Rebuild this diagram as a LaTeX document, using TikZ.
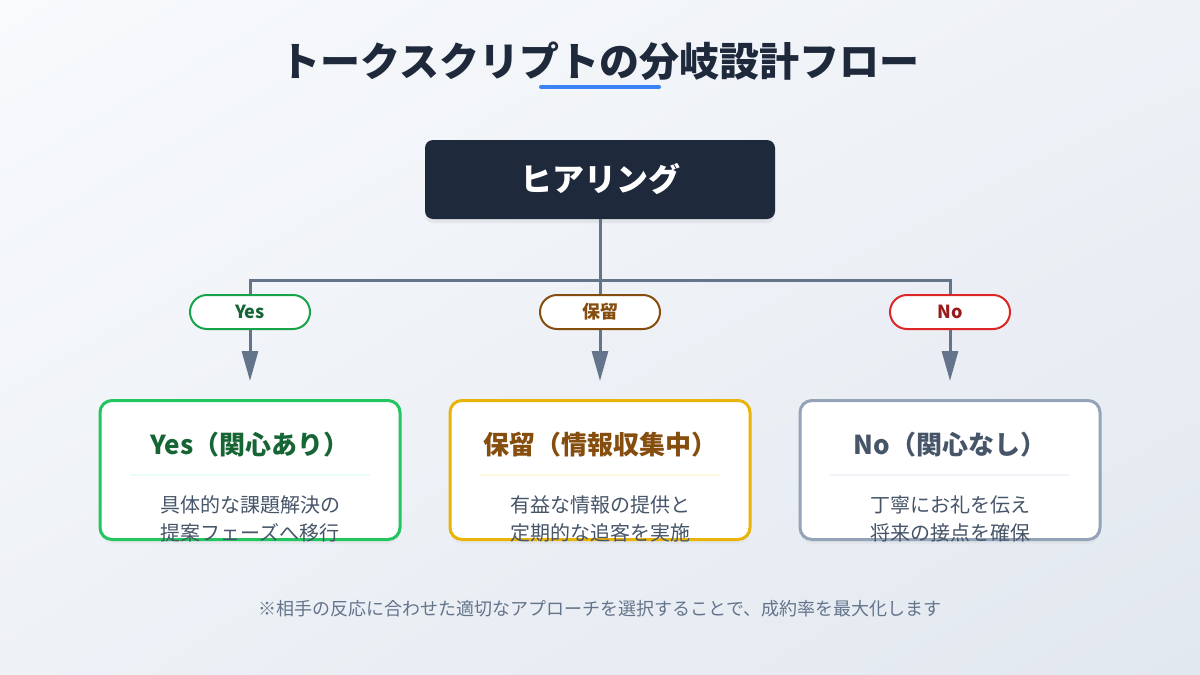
\documentclass[tikz,border=0pt]{standalone}
\usepackage{fontspec}
\setmainfont{Noto Sans CJK JP}
\usetikzlibrary{arrows.meta,positioning,shadows,shadings}

\definecolor{bgA}{HTML}{F8FAFC}
\definecolor{bgM}{HTML}{EEF1F6}
\definecolor{bgB}{HTML}{E2E8F0}
\definecolor{ink}{HTML}{1E293B}
\definecolor{slate}{HTML}{64748B}
\definecolor{bodytext}{HTML}{475569}
\definecolor{accent}{HTML}{3B82F6}
\definecolor{yesline}{HTML}{22C55E}
\definecolor{yespill}{HTML}{16A34A}
\definecolor{yestext}{HTML}{166534}
\definecolor{yessep}{HTML}{ECFDF3}
\definecolor{holdline}{HTML}{EAB308}
\definecolor{holdpill}{HTML}{854D0E}
\definecolor{holdtext}{HTML}{854D0E}
\definecolor{holdsep}{HTML}{FEF9DC}
\definecolor{noline}{HTML}{94A3B8}
\definecolor{nopill}{HTML}{DC2626}
\definecolor{notext}{HTML}{991B1B}
\definecolor{nosep}{HTML}{F1F5F9}

\newcommand{\fs}[1]{\fontsize{#1}{1.4\dimexpr#1pt\relax}\selectfont}

\begin{document}
\begin{tikzpicture}[
    x=1pt, y=-1pt,
    conn/.style={draw=slate, line width=3pt},
    flow/.style={conn, -{Triangle[length=30pt,width=16pt]}, shorten >=18pt},
    pill/.style={
        draw, 
        line width=2pt, 
        fill=white, 
        rounded corners=17pt, 
        minimum width=120pt, 
        minimum height=34pt, 
        inner sep=0pt, 
        font=\fs{18}\bfseries
    },
    card/.style={
        draw, 
        line width=3pt, 
        fill=white, 
        rounded corners=12pt, 
        minimum width=300pt, 
        minimum height=139pt,
        drop shadow={opacity=0.07, shadow xshift=0pt, shadow yshift=-4pt}
    },
    cardtitle/.style={font=\fs{26}\bfseries},
    cardbody/.style={font=\fontsize{20}{28}\selectfont, text=bodytext, align=center},
    sep/.style={line width=1.5pt}
]

% Sfondo
\useasboundingbox (0,0) rectangle (1200,675);
\shade[upper left=bgA, upper right=bgM, lower left=bgM, lower right=bgB] (0,0) rectangle (1200,675);

% Titolo
\node[font=\fs{40}\bfseries, text=ink] (title) at (600,61) {トークスクリプトの分岐設計フロー};
\draw[line width=4pt, line cap=round, draw=accent] (541,87) -- (659,87);

% Nodo di partenza
\node[fill=ink, rounded corners=8pt, minimum width=350pt, minimum height=79pt, 
      text=white, font=\fs{32}\bfseries,
      drop shadow={opacity=0.12, shadow xshift=0pt, shadow yshift=-4pt}] (hear) at (600,179.5) {ヒアリング};

% Schede risultato
\node[card, draw=yesline] (yes) at (250,470) {};
\node[card, draw=holdline, right=47pt of yes] (hold) {};
\node[card, draw=noline, right=47pt of hold] (no) {};

% Collegamenti
\coordinate (jn) at (600,280);
\draw[conn] (hear.south) -- (jn);
\draw[flow] (jn) -| (yes.north);
\draw[flow] (jn) -- (hold.north);
\draw[flow] (jn) -| (no.north);

% Etichette sui rami
\node[pill, draw=yespill, text=yestext] (yespl) at (250,312) {Yes};
\node[pill, draw=holdpill, text=holdtext] (holdpl) at (600,312) {保留};
\node[pill, draw=nopill, text=notext] (nopl) at (950,312) {No};

% Contenuto delle schede
\node[cardtitle, text=yestext] (yestl) at ([yshift=25pt]yes.center) {Yes（関心あり）};
\draw[sep, yessep] ([xshift=-120pt,yshift=-5pt]yes.center) -- ([xshift=120pt,yshift=-5pt]yes.center);
\node[cardbody] (yesbd) at ([yshift=-49pt]yes.center) {具体的な課題解決の\\提案フェーズへ移行};

\node[cardtitle, text=holdtext] (holdtl) at ([yshift=25pt]hold.center) {保留（情報収集中）};
\draw[sep, holdsep] ([xshift=-120pt,yshift=-5pt]hold.center) -- ([xshift=120pt,yshift=-5pt]hold.center);
\node[cardbody] (holdbd) at ([yshift=-49pt]hold.center) {有益な情報の提供と\\定期的な追客を実施};

\node[cardtitle, text=bodytext] (notl) at ([yshift=25pt]no.center) {No（関心なし）};
\draw[sep, nosep] ([xshift=-120pt,yshift=-5pt]no.center) -- ([xshift=120pt,yshift=-5pt]no.center);
\node[cardbody] (nobd) at ([yshift=-49pt]no.center) {丁寧にお礼を伝え\\将来の接点を確保};

% Nota
\node[font=\fs{18}, text=slate] (note) at (600,609) {※相手の反応に合わせた適切なアプローチを選択することで、成約率を最大化します};

\end{tikzpicture}
\end{document}
